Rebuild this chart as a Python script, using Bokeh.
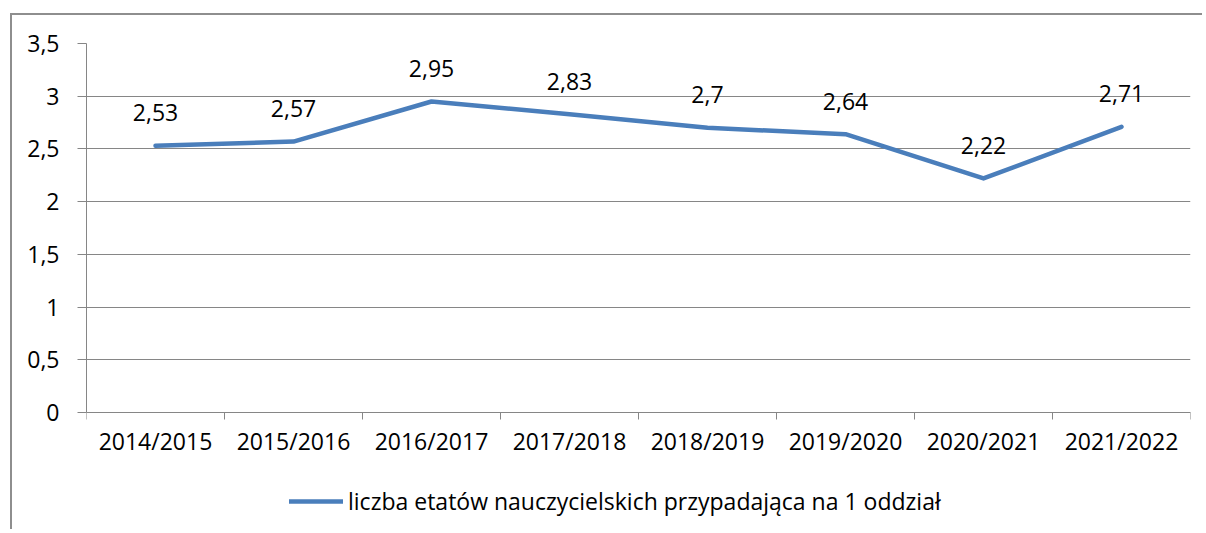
from bokeh.plotting import figure
from bokeh.models import FixedTicker, Legend, LegendItem, ColumnDataSource, Range1d
from bokeh.core.properties import value
from bokeh.embed import file_html
from bokeh.resources import INLINE

categories = ["2014/2015", "2015/2016", "2016/2017", "2017/2018",
              "2018/2019", "2019/2020", "2020/2021", "2021/2022"]
values = [2.53, 2.57, 2.95, 2.83, 2.70, 2.64, 2.22, 2.71]
value_labels = ["2,53", "2,57", "2,95", "2,83", "2,7", "2,64", "2,22", "2,71"]
series_name = "liczba etatów nauczycielskich przypadająca na 1 oddział"
y_ticks = [0, 0.5, 1, 1.5, 2, 2.5, 3, 3.5]
y_tick_labels = ["0", "0,5", "1", "1,5", "2", "2,5", "3", "3,5"]

FONT = "Open Sans"
GRAY = "#868686"
BLUE = "#4a7ebb"

# layout (pixels)
H = 516
TOP = 28
AXIS_PX = 369          # pixels from 0 to 3.5
FRAME_H = H - TOP      # frame reaches the canvas bottom
y_max = 3.5
y_min = -(FRAME_H - AXIS_PX) * y_max / AXIS_PX

xs = [i + 0.5 for i in range(len(categories))]
src = ColumnDataSource(dict(x=xs, y=values, lbl=value_labels))

p = figure(width=1192, height=H, output_backend="svg", toolbar_location=None,
           x_range=Range1d(0, len(categories)), y_range=Range1d(y_min, y_max),
           min_border_left=74, min_border_right=1192 - 74 - 1104, min_border_top=TOP,
           min_border_bottom=0)
p.styles = {"margin-left": "10px", "margin-top": "13px",
            "border-left": "2px solid #8e8e8e", "border-top": "2px solid #8e8e8e"}
p.outline_line_color = None
p.background_fill_color = "white"
p.border_fill_color = "white"

r = p.line("x", "y", source=src, line_color=BLUE, line_width=4.5,
           line_cap="round", line_join="round")
p.text("x", "y", text="lbl", source=src, text_align="center",
       text_baseline="alphabetic", y_offset=-33, text_font=value(FONT),
       text_font_size="23px", text_color="black")

# x axis (sits at y = 0)
p.xaxis.fixed_location = 0
p.xaxis.ticker = FixedTicker(ticks=xs, minor_ticks=list(range(len(categories) + 1)))
p.xaxis.major_label_overrides = {x: c for x, c in zip(xs, categories)}
p.xaxis.major_tick_line_color = None
p.xaxis.minor_tick_line_color = GRAY
p.xaxis.minor_tick_out = 7
p.xaxis.minor_tick_in = 0
p.xaxis.axis_line_color = GRAY
p.xaxis.major_label_standoff = 5
p.xaxis.major_label_text_font = FONT
p.xaxis.major_label_text_font_size = "23px"
p.xaxis.major_label_text_color = "black"
p.xgrid.grid_line_color = None

# y axis
p.yaxis.bounds = (0, y_max)
p.yaxis.ticker = FixedTicker(ticks=y_ticks, minor_ticks=[])
p.yaxis.major_label_overrides = {t: l for t, l in zip(y_ticks, y_tick_labels)}
p.yaxis.major_tick_line_color = GRAY
p.yaxis.major_tick_out = 9
p.yaxis.major_tick_in = 0
p.yaxis.axis_line_color = GRAY
p.yaxis.major_label_standoff = 18
p.yaxis.major_label_text_font = FONT
p.yaxis.major_label_text_font_size = "23px"
p.yaxis.major_label_text_color = "black"
p.ygrid.grid_line_color = GRAY
p.ygrid.ticker = FixedTicker(ticks=y_ticks)

legend = Legend(items=[LegendItem(label=series_name, renderers=[r])],
                location=(203, 14), orientation="horizontal",
                glyph_width=54, label_standoff=5, padding=0, margin=0,
                border_line_color=None, background_fill_alpha=0,
                label_text_font=FONT, label_text_font_size="23px",
                label_text_color="black")
p.add_layout(legend, "center")

open("out.html", "w").write(file_html(p, INLINE))
